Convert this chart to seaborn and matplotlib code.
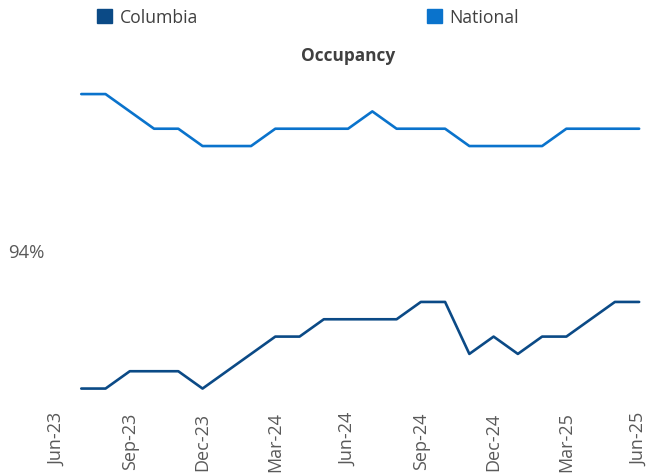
import numpy as np
import pandas as pd
import matplotlib
matplotlib.use("Agg")
import matplotlib.pyplot as plt
import matplotlib.patches as mpatches
import seaborn as sns

# monthly occupancy, Jul-23 .. Jun-25 (%)
months = ["Jul-23", "Aug-23", "Sep-23", "Oct-23", "Nov-23", "Dec-23",
          "Jan-24", "Feb-24", "Mar-24", "Apr-24", "May-24", "Jun-24",
          "Jul-24", "Aug-24", "Sep-24", "Oct-24", "Nov-24", "Dec-24",
          "Jan-25", "Feb-25", "Mar-25", "Apr-25", "May-25", "Jun-25"]
columbia = [93.2, 93.2, 93.3, 93.3, 93.3, 93.2, 93.3, 93.4, 93.5, 93.5, 93.6, 93.6,
            93.6, 93.6, 93.7, 93.7, 93.4, 93.5, 93.4, 93.5, 93.5, 93.6, 93.7, 93.7]
national = [94.9, 94.9, 94.8, 94.7, 94.7, 94.6, 94.6, 94.6, 94.7, 94.7, 94.7, 94.7,
            94.8, 94.7, 94.7, 94.7, 94.6, 94.6, 94.6, 94.6, 94.7, 94.7, 94.7, 94.7]
tick_labels = ["Jun-23", "Sep-23", "Dec-23", "Mar-24", "Jun-24",
               "Sep-24", "Dec-24", "Mar-25", "Jun-25"]

colors = {"Columbia": "#0b4a86", "National": "#0a73cc"}

df = pd.DataFrame({
    "idx": list(range(len(months))) * 2,
    "value": columbia + national,
    "series": ["Columbia"] * len(months) + ["National"] * len(months),
})

sns.set_style("white")
plt.rcParams["font.family"] = ["Open Sans", "DejaVu Sans"]

fig = plt.figure(figsize=(6.63, 4.77), dpi=100)
ax = fig.add_axes([0.086, 0.147, 0.878, 0.69])

sns.lineplot(data=df, x="idx", y="value", hue="series", palette=colors,
             linewidth=1.9, legend=False, ax=ax, clip_on=False)

ax.set_xlim(-1, 23)
ax.set_ylim(93.1, 95.0)
ax.set_xticks(range(-1, 24, 3))
ax.set_xticklabels(tick_labels, rotation=90, fontsize=13, color="#595959")
ax.set_xticks(range(-1, 24), minor=True)
ax.set_yticks([94.0])
ax.set_yticklabels(["94%"], fontsize=13.3, color="#595959")
ax.tick_params(axis="x", which="both", length=3, color="#e6e6e6", pad=1)
ax.tick_params(axis="y", length=3, color="#eeeeee", pad=6)
ax.set_xlabel("")
ax.set_ylabel("")
for s in ax.spines.values():
    s.set_visible(False)

ax.set_title("Occupancy", fontsize=12.4, fontweight="bold", color="#404040",
             pad=12)

handles = [mpatches.Patch(color=colors["Columbia"], label="Columbia"),
           mpatches.Patch(color=colors["National"], label="National")]
fig.legend(handles=handles, loc="center", bbox_to_anchor=(0.4646, 0.963), ncol=2,
           frameon=False, fontsize=12.7, handlelength=0.85, handleheight=0.85,
           handletextpad=0.4, columnspacing=13, labelcolor="#404040")

fig.savefig("out.png", dpi=100)
